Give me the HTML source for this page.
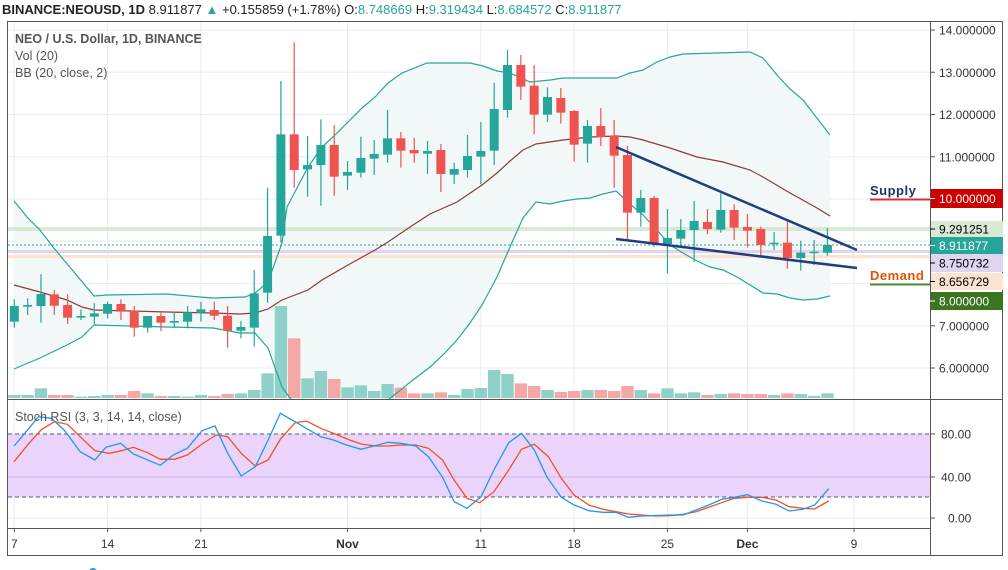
<!DOCTYPE html>
<html><head><meta charset="utf-8"><style>
body{margin:0;background:#fff;width:1008px;height:570px;overflow:hidden;font-family:"Liberation Sans",sans-serif}
svg{position:absolute;left:0;top:0}
</style></head><body>
<svg id="s" width="1008" height="570" xmlns="http://www.w3.org/2000/svg" font-family="Liberation Sans, sans-serif"></svg>
<script>
const S=document.getElementById('s');let h='';
const X=i=>14.3+13.33*i;
// frame grid
const py=p=>30+(14-p)*42.25;
h+='<defs><clipPath id="mp"><rect x="8" y="22" width="922" height="377"/></clipPath><clipPath id="sp"><rect x="8" y="400" width="922" height="128"/></clipPath></defs>';
for(let p=6;p<=14;p++){h+=`<line x1="8" x2="930" y1="${py(p)}" y2="${py(p)}" stroke="#e6eef4"/>`;}
[434,477,518].forEach(y=>h+=`<line x1="8" x2="930" y1="${y}" y2="${y}" stroke="#e6eef4"/>`);
const vx=[14.3,107.6,200.9,347.5,480.8,574.1,667.4,747.4,854];
vx.forEach(x=>h+=`<line x1="${x}" x2="${x}" y1="22" y2="528" stroke="#e6eef4"/>`);
// stoch band
h+=`<rect x="8" y="434" width="922" height="63" fill="#e9cffc" opacity="0.9"/>`;
h+=`<line x1="8" x2="930" y1="477" y2="477" stroke="#c9b3e6"/>`;
h+=`<line x1="8" x2="930" y1="434" y2="434" stroke="#5d5570" stroke-dasharray="4,3"/>`;
h+=`<line x1="8" x2="930" y1="497" y2="497" stroke="#5d5570" stroke-dasharray="4,3"/>`;
// bollinger
const up=[[14,201],[27,217],[40,230],[53,247],[94,296],[107,295],[167,294],[200,297],[213,298],[245,297],[255,293],[268,282],[282,243],[287,207],[308,167],[322,147],[335,135],[348,122],[362,108],[375,97],[388,83],[402,73],[427,63],[470,63],[483,66],[497,71],[510,73],[530,82],[550,80],[563,78],[617,78],[630,73],[643,70],[657,62],[670,57],[683,54],[750,52],[763,58],[777,75],[790,89],[803,100],[830,135]];
const lo=[[14,369],[40,358],[67,345],[82,337],[94,325],[167,327],[213,328],[240,333],[255,333],[268,348],[282,387],[295,405],[320,430],[360,425],[388,400],[413,380],[430,367],[443,355],[457,340],[470,323],[482,305],[497,277],[510,247],[523,218],[536,202],[550,204],[563,201],[577,199],[590,198],[603,194],[616,191],[630,204],[643,215],[657,230],[670,245],[683,253],[697,261],[710,267],[723,270],[737,277],[750,285],[763,293],[777,294],[790,298],[803,300],[817,299],[830,296]];
const md=[[14,285],[40,292],[67,300],[82,307],[94,310],[167,312],[213,313],[240,314],[255,313],[268,309],[282,300],[308,290],[322,280],[348,265],[375,250],[388,242],[413,225],[430,214],[457,202],[482,185],[497,173],[510,161],[523,150],[536,144],[563,140],[590,137],[616,136],[630,137],[643,140],[670,148],[697,157],[723,162],[750,170],[763,177],[790,193],[817,208],[830,216]];
const pts=a=>a.map(p=>p.join(',')).join(' ');
h+='<g clip-path="url(#mp)">';
h+=`<polygon points="${pts(up)} ${pts(lo.slice().reverse())}" fill="#f1f8f7"/>`;
// horizontal level lines
h+=`<rect x="8" y="227" width="922" height="4" fill="#d8ead5"/>`;
h+=`<rect x="8" y="250" width="922" height="3" fill="#ddd6ee"/>`;
h+=`<rect x="8" y="255" width="922" height="3" fill="#fde3cf"/>`;
h+=`<line x1="8" x2="930" y1="245" y2="245" stroke="#26a69a" stroke-dasharray="2,2"/>`;
// volume
const vol=[1095,1095,1075,1095,1095,1100,1098,1095,1095,1083,1090,1098,1098,1100,1095,1098,1092,1090,1080,1030,828,925,1045,1023,1047,1072,1066,1083,1062,1073,1090,1090,1087,1095,1077,1074,1020,1032,1060,1068,1080,1086,1083,1080,1080,1083,1068,1080,1090,1075,1090,1087,1095,1092,1090,1092,1092,1095,1090,1092,1098,1090];
// candles: [top,bottom,wtop,wbot,green]
const c=[[828,875,808,893,1],[825,830,805,855,1],[792,828,733,878,1],[793,827,780,855,0],[825,863,793,882,0],[858,863,838,870,1],[850,860,820,882,1],[822,851,815,865,1],[822,845,808,870,0],[842,893,828,920,0],[858,893,858,908,1],[858,878,848,903,0],[873,878,848,895,1],[847,875,828,895,1],[838,848,815,875,1],[840,857,815,870,0],[857,902,828,953,0],[891,902,873,925,1],[790,893,720,950,1],[618,788,473,818,1],[313,617,153,638,1],[313,420,37,473,0],[405,418,318,500,1],[345,405,268,527,1],[345,440,285,497,0],[426,437,393,480,1],[384,428,320,443,1],[372,386,330,435,1],[325,374,240,398,1],[325,362,306,413,0],[360,370,323,398,0],[363,371,333,432,1],[360,432,342,486,0],[417,434,398,462,1],[378,420,315,443,1],[363,380,276,463,1],[237,362,158,405,1],[105,240,60,263,1],[105,170,75,210,0],[167,254,105,313,0],[201,254,172,276,1],[204,248,174,281,0],[243,344,240,395,0],[288,341,270,398,1],[288,321,234,348,0],[318,377,270,473,0],[375,548,348,631,0],[504,548,480,590,1],[504,640,498,650,0],[624,642,537,730,1],[600,626,567,652,1],[573,600,513,696,1],[576,597,537,613,0],[540,599,490,608,1],[540,593,523,630,0],[591,602,552,653,0],[597,645,590,680,0],[638,640,606,660,1],[638,684,570,716,0],[668,684,632,722,1],[665,667,630,705,1],[645,668,594,677,1]];
const Y=z=>30+z/3;
c.forEach((k,i)=>{const x=X(i),col=k[4]?'#26a69a':'#ef5350',vc=k[4]?'#8fd1c9':'#f5a7a6';
 h+=`<rect x="${x-6.2}" y="${Y(vol[i])}" width="12.4" height="${398-Y(vol[i])}" fill="${vc}"/>`;});
h+=`<polyline points="${pts(up)}" fill="none" stroke="#26a69a" stroke-width="1.2"/>`;
h+=`<polyline points="${pts(lo)}" fill="none" stroke="#26a69a" stroke-width="1.2"/>`;
h+=`<polyline points="${pts(md)}" fill="none" stroke="#8e3a3a" stroke-width="1.2"/>`;
c.forEach((k,i)=>{const x=X(i),col=k[4]?'#26a69a':'#ef5350';
 h+=`<line x1="${x}" x2="${x}" y1="${Y(k[2])}" y2="${Y(k[3])}" stroke="${col}" stroke-width="1.2"/>`;
 h+=`<rect x="${x-4.5}" y="${Y(k[0])}" width="9" height="${Math.max(1.5,Y(k[1])-Y(k[0]))}" fill="${col}"/>`;});
h+=`<line x1="616" y1="147" x2="857" y2="250" stroke="#1f3d7f" stroke-width="2.5"/>`;
h+=`<line x1="616" y1="239" x2="857" y2="268" stroke="#1f3d7f" stroke-width="2.5"/>`;
h+='</g>';
// supply/demand
h+=`<line x1="870" x2="930" y1="199.5" y2="199.5" stroke="#d32f2f" stroke-width="2"/>`;
h+=`<text x="870" y="195" font-size="13" font-weight="bold" fill="#163a66" letter-spacing="0.5">Supply</text>`;
h+=`<line x1="870" x2="930" y1="284.5" y2="284.5" stroke="#4b8a3a" stroke-width="2"/>`;
h+=`<text x="870" y="280" font-size="13" font-weight="bold" fill="#e65100" letter-spacing="0.5">Demand</text>`;
// stoch lines
const bl=[[22,168],[45,115],[60,80],[80,85],[100,120],[125,185],[148,210],[165,172],[188,160],[208,192],[250,226],[270,195],[292,175],[315,122],[335,108],[355,190],[376,258],[398,230],[418,150],[437,70],[460,95],[480,118],[500,140],[520,150],[540,165],[563,178],[605,157],[625,160],[648,168],[668,200],[690,262],[708,335],[728,355],[750,320],[770,240],[793,158],[813,130],[833,180],[853,262],[875,322],[895,345],[918,362],[940,367],[960,367],[980,382],[1000,378],[1043,375],[1065,375],[1085,360],[1105,345],[1125,328],[1145,322],[1165,314],[1188,333],[1210,343],[1230,363],[1252,358],[1270,345],[1292,296]];
const or=[[22,215],[45,160],[65,118],[85,95],[105,103],[125,140],[148,182],[170,190],[188,183],[208,172],[230,188],[250,208],[272,208],[292,195],[315,162],[337,135],[355,140],[376,190],[398,228],[418,210],[437,148],[460,98],[478,93],[500,115],[520,130],[545,150],[563,162],[585,168],[605,168],[625,165],[648,165],[668,175],[690,210],[708,270],[728,325],[748,338],[770,305],[793,240],[813,178],[833,163],[855,200],[875,265],[895,315],[918,345],[940,358],[960,365],[980,372],[1000,375],[1020,378],[1043,377],[1065,373],[1085,365],[1105,352],[1125,338],[1145,325],[1165,322],[1188,322],[1210,330],[1230,350],[1252,355],[1270,357],[1292,333]];
const cv=a=>a.map(p=>(p[0]/1.559).toFixed(1)+','+(390+p[1]/3).toFixed(1)).join(' ');
h+=`<g clip-path="url(#sp)"><polyline points="${cv(or)}" fill="none" stroke="#f4511e" stroke-width="1.3"/><polyline points="${cv(bl)}" fill="none" stroke="#2196f3" stroke-width="1.3"/></g>`;
// frame
h+=`<rect x="7.5" y="21.5" width="995" height="534" fill="none" stroke="#555" stroke-width="1"/>`;
h+=`<line x1="930.5" x2="930.5" y1="22" y2="556" stroke="#555"/>`;
h+=`<line x1="8" x2="1003" y1="399.5" y2="399.5" stroke="#555"/>`;
h+=`<line x1="8" x2="930" y1="528.5" y2="528.5" stroke="#555"/>`;
// price axis
for(let p=6;p<=14;p++){if(p==10||p==8)continue;const y=py(p);h+=`<line x1="930" x2="935" y1="${y}" y2="${y}" stroke="#555"/><text x="939" y="${y+4.5}" font-size="12" fill="#333">${p<10?'':''}${p.toFixed(6)}</text>`;}
const box=(y1,y2,bg,fg,t)=>{h+=`<rect x="931" y="${y1}" width="72" height="${y2-y1}" fill="${bg}"/><line x1="930" x2="935" y1="${(y1+y2)/2}" y2="${(y1+y2)/2}" stroke="${fg}"/><text x="939" y="${(y1+y2)/2+4.5}" font-size="12" fill="${fg}">${t}</text>`;};
box(189,208,'#cc0000','#fff','10.000000');
box(221,237,'#d8ead5','#000','9.291251');
box(237,254,'#26a69a','#fff','8.911877');
box(254,272,'#ddd6ee','#000','8.750732');
box(273,290,'#fde4d0','#000','8.656729');
box(292,310,'#3b7521','#fff','8.000000');
[[434,'80.00'],[477,'40.00'],[518,'0.00']].forEach(([y,t])=>h+=`<line x1="930" x2="935" y1="${y}" y2="${y}" stroke="#555"/><text x="${t.length>4?941:948}" y="${y+4.5}" font-size="12" fill="#333">${t}</text>`);
// time axis
[['7',14.3],['14',107.6],['21',200.9],['Nov',347.5],['11',480.8],['18',574.1],['25',667.4],['Dec',747.4],['9',854]].forEach(([t,x])=>h+=`<line x1="${x}" x2="${x}" y1="528" y2="532" stroke="#555"/><text x="${x}" y="548" font-size="12" fill="#333" text-anchor="middle" ${isNaN(t)?'font-weight="bold"':''}>${t}</text>`);
// legends
h+=`<text x="15" y="43" font-size="12.5" font-weight="bold" fill="#555">NEO / U.S. Dollar, 1D, BINANCE</text>`;
h+=`<text x="15" y="60" font-size="12.5" fill="#555">Vol (20)</text>`;
h+=`<text x="15" y="77" font-size="12.5" fill="#555">BB (20, close, 2)</text>`;
h+=`<text x="15" y="421" font-size="12.5" fill="#555">Stoch RSI (3, 3, 14, 14, close)</text>`;
h+=`<text x="2" y="14" font-size="13" fill="#222"><tspan font-weight="bold">BINANCE:NEOUSD, 1D</tspan> 8.911877 <tspan fill="#26a69a">▲</tspan> +0.155859 (+1.78%) O:<tspan fill="#26a69a">8.748669</tspan> H:<tspan fill="#26a69a">9.319434</tspan> L:<tspan fill="#26a69a">8.684572</tspan> C:<tspan fill="#26a69a">8.911877</tspan></text>`;
h+=`<circle cx="93" cy="572" r="4" fill="#2196f3"/>`;
S.innerHTML=h;
</script>
</body></html>
